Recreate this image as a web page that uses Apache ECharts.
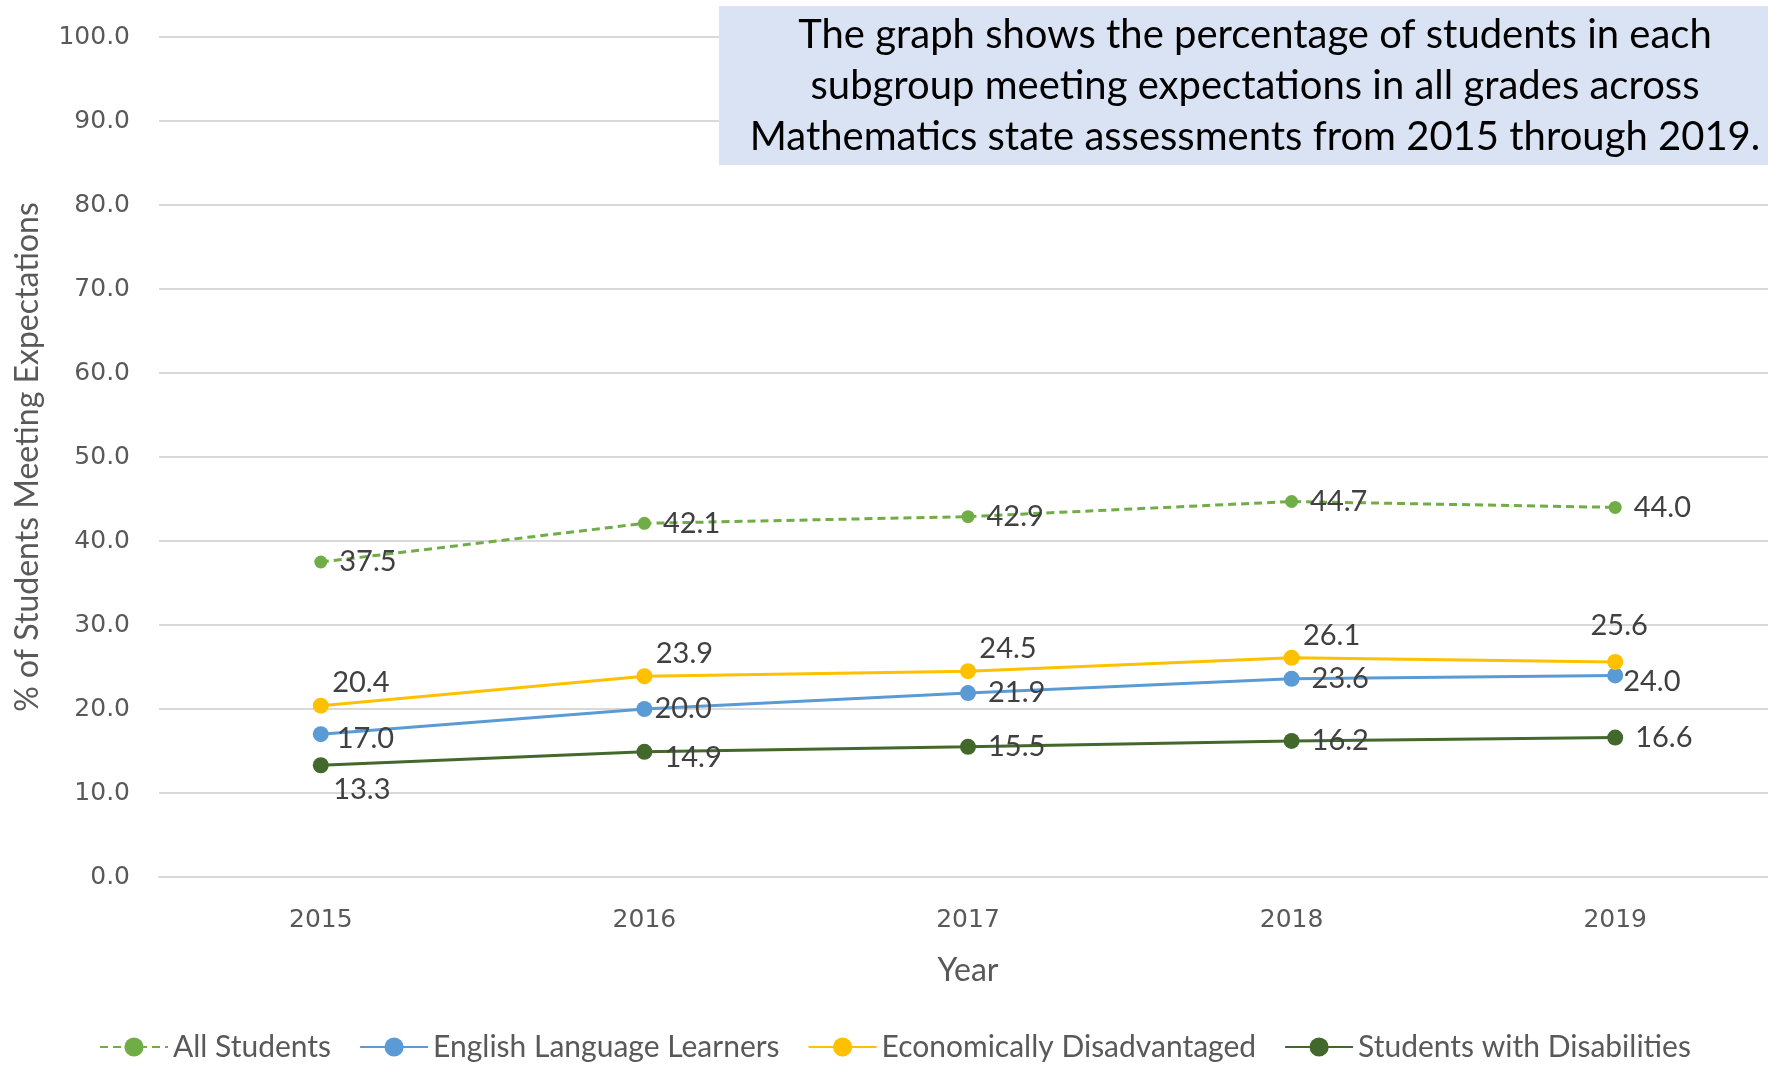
<!DOCTYPE html>
<html>
<head>
<meta charset="utf-8">
<script src="https://cdn.jsdelivr.net/npm/echarts@6/dist/echarts.min.js"></script>
<style>
  html, body { margin: 0; padding: 0; background: #fff; }
  #view { width: 1768px; height: 1065px; }
</style>
</head>
<body>
<div id="view"></div>
<script>
// data
const years = ["2015", "2016", "2017", "2018", "2019"];
const allStudents = [37.5, 42.1, 42.9, 44.7, 44.0];
const ellStudents = [17.0, 20.0, 21.9, 23.6, 24.0];
const econStudents = [20.4, 23.9, 24.5, 26.1, 25.6];
const swdStudents = [13.3, 14.9, 15.5, 16.2, 16.6];
const yTicks = [0, 10, 20, 30, 40, 50, 60, 70, 80, 90, 100];

const noteText = "The graph shows the percentage of students in each\nsubgroup meeting expectations in all grades across\nMathematics state assessments from 2015 through 2019.";

const txtFont = "Lato";
const tickFont = "DejaVu Sans";
const labelColor = "#404040";

let chart = echarts.init(document.getElementById("view"));

// build point list, with a few labels moved like in the original
function points(values, tweaks) {
  return values.map((v, i) => {
    let p = { value: v };
    if (tweaks && tweaks[i]) {
      p.label = tweaks[i];
    }
    return p;
  });
}

function baseLabel(extra) {
  return Object.assign({
    show: true,
    position: "right",
    distance: 12,
    color: labelColor,
    fontFamily: txtFont,
    fontSize: 29,
    formatter: (p) => p.value.toFixed(1),
  }, extra || {});
}

let allS = {
  name: "All Students",
  type: "line",
  data: points(allStudents),
  symbol: "circle",
  symbolSize: 13,
  itemStyle: { color: "#70AD47" },
  lineStyle: { color: "#70AD47", width: 3, type: [8, 5] },
  label: baseLabel(),
  z: 5,
};
let ellS = {
  name: "English Language Learners",
  type: "line",
  data: points(ellStudents, {
    0: { offset: [-4, 4] },
    1: { offset: [-10, 0] },
    4: { distance: 0, offset: [0, 6] },
  }),
  symbol: "circle",
  symbolSize: 16,
  itemStyle: { color: "#5B9BD5" },
  lineStyle: { color: "#5B9BD5", width: 3 },
  label: baseLabel(),
};
let econS = {
  name: "Economically Disadvantaged",
  type: "line",
  data: points(econStudents, {
    4: { offset: [4, 0], distance: 14 },
  }),
  symbol: "circle",
  symbolSize: 16,
  itemStyle: { color: "#FFC000" },
  lineStyle: { color: "#FFC000", width: 3 },
  label: baseLabel({ position: "top", distance: 0, offset: [40, 0] }),
};
let swdS = {
  name: "Students with Disabilities",
  type: "line",
  data: points(swdStudents, {
    0: { position: "bottom", distance: 2, offset: [41, 0] },
    1: { offset: [0, 6] },
  }),
  symbol: "circle",
  symbolSize: 16,
  itemStyle: { color: "#43682B" },
  lineStyle: { color: "#43682B", width: 3 },
  label: baseLabel(),
};

let option = {
  backgroundColor: "#ffffff",
  animation: false,
  grid: {
    left: 159,
    right: -9,
    top: 37,
    bottom: 188,
    outerBoundsMode: "none",
  },
  legend: {
    left: 94,
    top: 1027,
    itemWidth: 68,
    itemHeight: 24,
    itemGap: 28,
    textStyle: { color: "#595959", fontFamily: txtFont, fontSize: 30 },
    data: ["All Students", "English Language Learners", "Economically Disadvantaged", "Students with Disabilities"],
  },
  xAxis: {
    type: "category",
    data: years,
    boundaryGap: true,
    name: "Year",
    nameLocation: "middle",
    nameGap: 78,
    nameTextStyle: { color: "#595959", fontFamily: txtFont, fontSize: 32 },
    axisLine: { lineStyle: { color: "#d9d9d9", width: 2 } },
    axisTick: { show: false },
    axisLabel: { color: "#595959", fontFamily: tickFont, fontSize: 25, margin: 31 },
  },
  yAxis: {
    type: "value",
    min: yTicks[0],
    max: yTicks[yTicks.length - 1],
    interval: yTicks[1] - yTicks[0],
    name: "% of Students Meeting Expectations",
    nameLocation: "middle",
    nameGap: 115,
    nameTextStyle: { color: "#595959", fontFamily: txtFont, fontSize: 32 },
    axisLine: { show: false },
    axisTick: { show: false },
    splitLine: { lineStyle: { color: "#d9d9d9", width: 2 } },
    axisLabel: {
      color: "#595959",
      fontFamily: tickFont,
      fontSize: 25,
      margin: 29,
      formatter: (v) => v.toFixed(1),
    },
  },
  graphic: [
    {
      type: "rect",
      left: 719,
      top: 6,
      z: 100,
      shape: { x: 0, y: 0, width: 1049, height: 159 },
      style: { fill: "#DAE3F3" },
    },
    {
      type: "text",
      z: 101,
      x: 1255,
      y: 86,
      style: {
        text: noteText,
        fill: "#000000",
        font: "40px Lato",
        align: "center",
        verticalAlign: "middle",
        lineHeight: 51,
      },
    },
  ],
  series: [allS, ellS, econS, swdS],
};
chart.setOption(option);
</script>
</body>
</html>
